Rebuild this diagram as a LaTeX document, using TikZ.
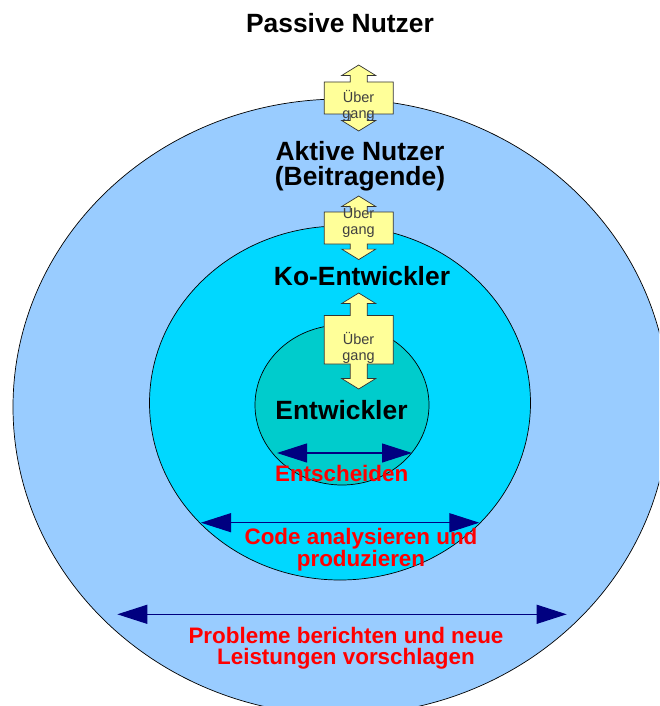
\documentclass[tikz,border=0pt]{standalone}
\usepackage{fontspec}
\setmainfont{Liberation Sans}
\usetikzlibrary{arrows.meta}
\definecolor{outerblue}{HTML}{99CCFF}
\definecolor{midcyan}{HTML}{00D8FF}
\definecolor{innerteal}{HTML}{00CCCC}
\definecolor{ubyellow}{HTML}{FFFF99}
\definecolor{navyarrow}{HTML}{000080}
\newcommand{\ubarrow}[5]{%
  \filldraw[ubshape] (#1-8.5,#3) -- (#1-8.5,#2+10.5) -- (#1-17,#2+10.5) -- (#1,#2)
    -- (#1+17,#2+10.5) -- (#1+8.5,#2+10.5) -- (#1+8.5,#3) -- (#1+34.5,#3)
    -- (#1+34.5,#4) -- (#1+8.5,#4) -- (#1+8.5,#5-10.5) -- (#1+17,#5-10.5)
    -- (#1,#5) -- (#1-17,#5-10.5) -- (#1-8.5,#5-10.5) -- (#1-8.5,#4)
    -- (#1-34.5,#4) -- (#1-34.5,#3) -- cycle;}
\tikzset{
  ring/.style={draw=black, line width=0.7pt},
  ubshape/.style={fill=ubyellow, draw=black!80, line width=0.7pt, line join=miter},
  ubtext/.style={font=\fontsize{14.5}{16}\selectfont, text=black!75, align=center, inner sep=0pt, anchor=base},
  grouplabel/.style={font=\fontsize{26.4}{25}\selectfont\bfseries, align=center, inner sep=0pt, anchor=base},
  actlabel/.style={font=\fontsize{22.4}{20.5}\selectfont\bfseries, text=red, align=center, inner sep=0pt, anchor=base},
  scope/.style={draw=navyarrow, line width=1.1pt, {Triangle[length=30pt,width=19pt]}-{Triangle[length=30pt,width=19pt]}}
}
\begin{document}
\begin{tikzpicture}[x=1pt,y=-1pt]
\useasboundingbox (0,0) rectangle (659,706);
\clip (0,0) rectangle (659,706);
% circles
\filldraw[ring, fill=outerblue] (341,407) ellipse [x radius=328, y radius=308];
\filldraw[ring, fill=midcyan] (340,403) ellipse [x radius=190.5, y radius=177];
\filldraw[ring, fill=innerteal] (342,405) ellipse [x radius=87, y radius=80];
% transition arrows
\ubarrow{358.7}{65}{82}{114}{131}
\ubarrow{358.7}{196}{212}{244}{259.6}
\ubarrow{358.7}{293}{315.5}{364}{389}
% node base = baseline of the last line
\node[ubtext] (u1) at (358.5,118) {Über\\gang};
\node[ubtext] (u2) at (358.5,234) {Über\\gang};
\node[ubtext] (u3) at (358.5,360) {Über\\gang};
% group labels
\node[grouplabel] (passive) at (340,32.3) {Passive Nutzer};
\node[grouplabel] (aktive) at (360,185.7) {Aktive Nutzer\\(Beitragende)};
\node[grouplabel] (ko) at (362,285) {Ko-Entwickler};
\node[grouplabel] (dev) at (341.5,419) {Entwickler};
% activity labels
\node[actlabel] (entsch) at (341.7,481.7) {Entscheiden};
\node[actlabel] (code) at (361,566) {Code analysieren und\\produzieren};
\node[actlabel] (probl) at (346,664) {Probleme berichten und neue\\Leistungen vorschlagen};
% scope arrows
\coordinate (e1l) at (277,453);
\coordinate (e1r) at (412,453);
\coordinate (e2l) at (201,522.7);
\coordinate (e2r) at (479.3,522.7);
\coordinate (e3l) at (117.3,614.3);
\coordinate (e3r) at (566.7,614.3);
\draw[scope] (e1l) -- (e1r);
\draw[scope] (e2l) -- (e2r);
\draw[scope] (e3l) -- (e3r);
\end{tikzpicture}
\end{document}
